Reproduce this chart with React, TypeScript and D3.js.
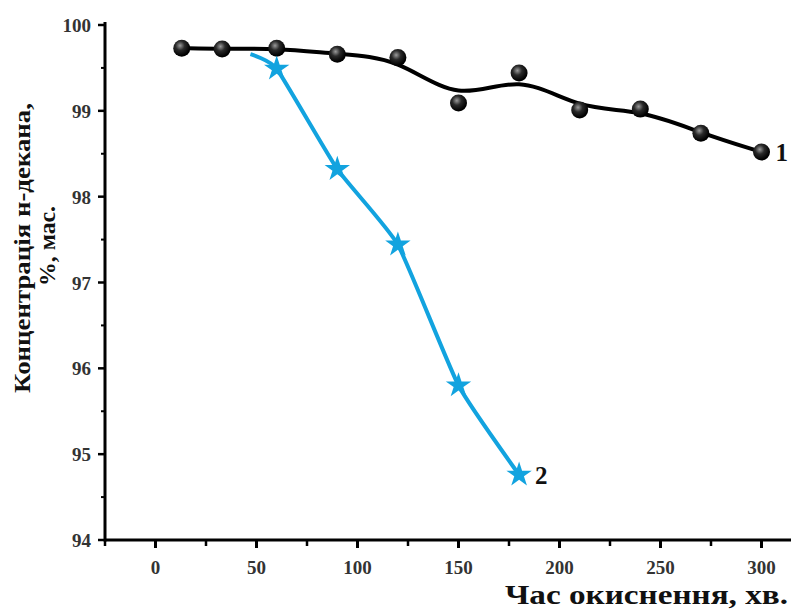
import React, { useRef, useEffect } from 'react';
import * as d3 from 'd3';

// series 1 (black, circles)
const timeA = [13, 33, 60, 90, 120, 150, 180, 210, 240, 270, 300];
const concA = [99.73, 99.72, 99.73, 99.66, 99.62, 99.09, 99.44, 99.01, 99.02, 98.74, 98.52];

// series 2 (blue, stars); first point has no marker
const timeB = [47, 60, 90, 120, 150, 180];
const concB = [99.66, 99.49, 98.32, 97.44, 95.8, 94.76];
const markerB = [false, true, true, true, true, true];

const xMajor = [0, 50, 100, 150, 200, 250, 300];
const xMinor = [-25, 25, 75, 125, 175, 225, 275, 325];
const yMajor = [94, 95, 96, 97, 98, 99, 100];
const yMinor = [94.5, 95.5, 96.5, 97.5, 98.5, 99.5];

const W = 791;
const H = 609;
const blue = "#12a3df";
const font = "'Liberation Serif', 'Times New Roman', serif";

export default function App() {
  const ref = useRef<SVGSVGElement>(null);

  useEffect(() => {
    const svg = d3.select(ref.current);
    svg.selectAll("*").remove();

    const x = d3.scaleLinear().domain([-25, 325]).range([105, 105 + 350 * 2.02]);
    const y = d3.scaleLinear().domain([94, 100]).range([540, 25]);

    const defs = svg.append("defs");
    const grad = defs.append("radialGradient")
      .attr("id", "ball")
      .attr("cx", "40%").attr("cy", "35%").attr("r", "60%");
    grad.append("stop").attr("offset", "0%").attr("stop-color", "#9a9a9a");
    grad.append("stop").attr("offset", "45%").attr("stop-color", "#2a2a2a");
    grad.append("stop").attr("offset", "100%").attr("stop-color", "#000");

    // Axes
    const g = svg.append("g");
    g.append("line")
      .attr("x1", x(-25)).attr("x2", W + 5)
      .attr("y1", y(94)).attr("y2", y(94))
      .attr("stroke", "#000").attr("stroke-width", 3);
    g.append("line")
      .attr("x1", x(-25)).attr("x2", x(-25))
      .attr("y1", y(94) + 1.5).attr("y2", 22)
      .attr("stroke", "#000").attr("stroke-width", 3);

    xMajor.forEach(t => {
      g.append("line")
        .attr("x1", x(t)).attr("x2", x(t))
        .attr("y1", y(94)).attr("y2", y(94) + 8)
        .attr("stroke", "#000").attr("stroke-width", 3);
      g.append("text")
        .attr("x", x(t)).attr("y", 574)
        .attr("text-anchor", "middle")
        .attr("font-family", font).attr("font-size", 19).attr("font-weight", "bold")
        .attr("fill", "#333")
        .text(t);
    });
    xMinor.forEach(t => {
      g.append("line")
        .attr("x1", x(t)).attr("x2", x(t))
        .attr("y1", y(94)).attr("y2", y(94) + 6)
        .attr("stroke", "#000").attr("stroke-width", 2.5);
    });
    yMajor.forEach(t => {
      g.append("line")
        .attr("x1", x(-25) - 7).attr("x2", x(-25))
        .attr("y1", y(t)).attr("y2", y(t))
        .attr("stroke", "#000").attr("stroke-width", 2.5);
      g.append("text")
        .attr("x", 91).attr("y", y(t) + 7)
        .attr("text-anchor", "end")
        .attr("font-family", font).attr("font-size", 19).attr("font-weight", "bold")
        .attr("fill", "#333")
        .text(t);
    });
    yMinor.forEach(t => {
      g.append("line")
        .attr("x1", x(-25) - 4).attr("x2", x(-25))
        .attr("y1", y(t)).attr("y2", y(t))
        .attr("stroke", "#000").attr("stroke-width", 2);
    });

    // Axis titles
    svg.append("text")
      .attr("transform", "translate(30,248) rotate(-90)")
      .attr("text-anchor", "middle")
      .attr("font-family", font).attr("font-size", 24).attr("font-weight", "bold")
      .attr("fill", "#111")
      .attr("textLength", 290).attr("lengthAdjust", "spacingAndGlyphs")
      .text("Концентрація н-декана,");
    svg.append("text")
      .attr("transform", "translate(55,246) rotate(-90)")
      .attr("text-anchor", "middle")
      .attr("font-family", font).attr("font-size", 23).attr("font-weight", "bold")
      .attr("fill", "#111")
      .attr("textLength", 80).attr("lengthAdjust", "spacingAndGlyphs")
      .text("%, мас.");
    svg.append("text")
      .attr("x", 788).attr("y", 604)
      .attr("text-anchor", "end")
      .attr("font-family", font).attr("font-size", 28).attr("font-weight", "bold")
      .attr("fill", "#111")
      .attr("textLength", 283).attr("lengthAdjust", "spacingAndGlyphs")
      .text("Час окиснення, хв.");

    // Series 2 (blue)
    const dataB = timeB.map((t, i) => ({ t, c: concB[i], m: markerB[i] }));
    svg.append("path")
      .attr("fill", "none")
      .attr("stroke", blue)
      .attr("stroke-width", 4)
      .attr("d", d3.line<any>().x(d => x(d.t)).y(d => y(d.c)).curve(d3.curveCardinal.tension(0.55))(dataB) as string);

    // Series 1 (black)
    const dataA = timeA.map((t, i) => ({ t, c: concA[i] }));
    svg.append("path")
      .attr("fill", "none")
      .attr("stroke", "#000")
      .attr("stroke-width", 4)
      .attr("d", d3.line<any>().x(d => x(d.t)).y(d => y(d.c)).curve(d3.curveBasis)(dataA) as string);

    svg.append("g").selectAll("circle")
      .data(dataA)
      .enter()
      .append("circle")
      .attr("cx", d => x(d.t))
      .attr("cy", d => y(d.c))
      .attr("r", 8.5)
      .attr("fill", "url(#ball)");

    const star = d3.symbol().type(d3.symbolStar).size(200);
    svg.append("g").selectAll("path")
      .data(dataB.filter(d => d.m))
      .enter()
      .append("path")
      .attr("transform", d => `translate(${x(d.t)},${y(d.c)})`)
      .attr("d", star() as string)
      .attr("fill", blue);

    // Series labels
    svg.append("text")
      .attr("x", x(300) + 14).attr("y", y(concA[concA.length - 1]) + 9)
      .attr("font-family", font).attr("font-size", 25).attr("font-weight", "bold")
      .attr("fill", "#111")
      .text("1");
    svg.append("text")
      .attr("x", x(180) + 16).attr("y", y(concB[concB.length - 1]) + 9)
      .attr("font-family", font).attr("font-size", 25).attr("font-weight", "bold")
      .attr("fill", "#111")
      .text("2");
  }, []);

  return (
    <svg ref={ref} width={W} height={H}
      style={{ position: 'absolute', left: 0, top: 0, background: '#fff' }} />
  );
}
